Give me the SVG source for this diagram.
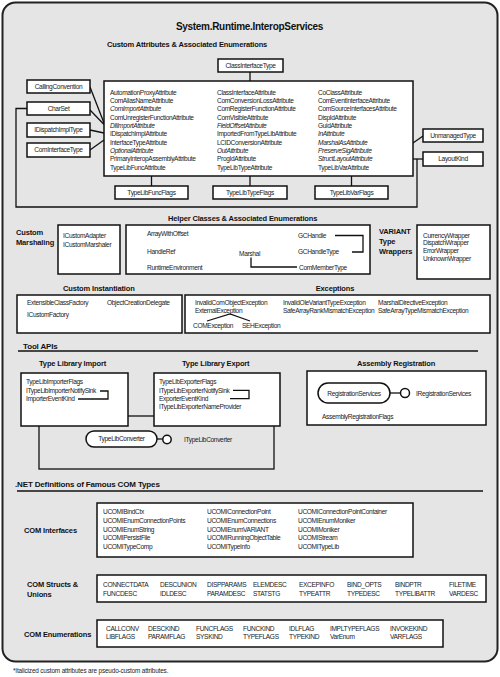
<svg xmlns="http://www.w3.org/2000/svg" width="500" height="677" viewBox="0 0 500 677">
<style>
text { font-family: "Liberation Sans", Arial, Helvetica, sans-serif; fill: #1a1a1a; }
.b { font-size: 6.6px; letter-spacing: -0.35px; }
.i { font-style: italic; }
.h { font-size: 7.5px; font-weight: bold; letter-spacing: -0.15px; fill: #111; }
.hs { font-size: 8px; }
.t { font-size: 10px; font-weight: bold; letter-spacing: -0.3px; fill: #111; }
.c { text-anchor: middle; }
.f { font-size: 6.4px; letter-spacing: -0.15px; }
.box { fill: #ffffff; stroke: #111; stroke-width: 1.5; }
.pill { fill: #ffffff; stroke: #111; stroke-width: 1.5; }
.ln { fill: none; stroke: #111; stroke-width: 1.3; }
</style>

<rect x="2.5" y="2.5" width="495" height="659" rx="13" fill="#e5e5e5" stroke="#222" stroke-width="2"/>
<text class="t c" x="249.5" y="30">System.Runtime.InteropServices</text>

<!-- ===== Section 1 ===== -->
<text class="h" x="107" y="46.5">Custom Attributes &amp; Associated Enumerations</text>

<g id="connectors">
  <line class="ln" x1="250" y1="72" x2="250" y2="81"/>
  <line class="ln" x1="90" y1="87" x2="104" y2="123"/>
  <line class="ln" x1="90" y1="110" x2="104" y2="124.5"/>
  <line class="ln" x1="90" y1="130" x2="104" y2="133"/>
  <line class="ln" x1="90" y1="150" x2="104" y2="140"/>
  <polyline class="ln" points="27,108.5 16,108.5 16,207 417,207 417,159"/>
  <line class="ln" x1="413" y1="159" x2="423" y2="159"/>
  <line class="ln" x1="413" y1="143" x2="423" y2="136"/>
  <line class="ln" x1="151.5" y1="176" x2="151.5" y2="186"/>
  <line class="ln" x1="250" y1="176" x2="250" y2="186"/>
  <line class="ln" x1="351.5" y1="176" x2="351.5" y2="186"/>
  <!-- tool apis -->
  <line class="ln" x1="18" y1="351" x2="478" y2="351"/>
  <rect class="ln" x="39" y="416" width="235" height="53"/>
  <line class="ln" x1="157" y1="439" x2="163" y2="439"/>
  <line class="ln" x1="390" y1="393" x2="400.5" y2="393"/>
  <!-- .NET -->
  <line class="ln" x1="17" y1="491" x2="483" y2="491"/>
</g>

<g id="ClassInterfaceType">
  <rect class="box" x="218" y="59" width="65" height="13"/>
  <text class="b c" x="250.5" y="67.9">ClassInterfaceType</text>
</g>

<g id="attributes">
  <rect class="box" x="104" y="81" width="309" height="95"/>
  <text class="b" x="110" y="94.7">AutomationProxyAttribute</text>
  <text class="b" x="110" y="103">ComAliasNameAttribute</text>
  <text class="b i" x="110" y="111.4">ComImportAttribute</text>
  <text class="b" x="110" y="119.7">ComUnregisterFunctionAttribute</text>
  <text class="b i" x="110" y="128">DllImportAttribute</text>
  <text class="b" x="110" y="136.4">IDispatchImplAttribute</text>
  <text class="b" x="110" y="144.7">InterfaceTypeAttribute</text>
  <text class="b i" x="110" y="153">OptionalAttribute</text>
  <text class="b" x="110" y="161.4">PrimaryInteropAssemblyAttribute</text>
  <text class="b" x="110" y="169.7">TypeLibFuncAttribute</text>

  <text class="b" x="217" y="94.7">ClassInterfaceAttribute</text>
  <text class="b" x="217" y="103">ComConversionLossAttribute</text>
  <text class="b" x="217" y="111.4">ComRegisterFunctionAttribute</text>
  <text class="b" x="217" y="119.7">ComVisibleAttribute</text>
  <text class="b i" x="217" y="128">FieldOffsetAttribute</text>
  <text class="b" x="217" y="136.4">ImportedFromTypeLibAttribute</text>
  <text class="b" x="217" y="144.7">LCIDConversionAttribute</text>
  <text class="b i" x="217" y="153">OutAttribute</text>
  <text class="b" x="217" y="161.4">ProgIdAttribute</text>
  <text class="b" x="217" y="169.7">TypeLibTypeAttribute</text>

  <text class="b" x="318" y="94.7">CoClassAttribute</text>
  <text class="b" x="318" y="103">ComEventInterfaceAttribute</text>
  <text class="b" x="318" y="111.4">ComSourceInterfacesAttribute</text>
  <text class="b" x="318" y="119.7">DispIdAttribute</text>
  <text class="b" x="318" y="128">GuidAttribute</text>
  <text class="b i" x="318" y="136.4">InAttribute</text>
  <text class="b i" x="318" y="144.7">MarshalAsAttribute</text>
  <text class="b i" x="318" y="153">PreserveSigAttribute</text>
  <text class="b i" x="318" y="161.4">StructLayoutAttribute</text>
  <text class="b" x="318" y="169.7">TypeLibVarAttribute</text>
</g>

<g id="CallingConvention">
  <rect class="box" x="27" y="80" width="63" height="13"/>
  <text class="b c" x="58.5" y="88.9">CallingConvention</text>
</g>
<g id="CharSet">
  <rect class="box" x="27" y="102" width="63" height="13"/>
  <text class="b c" x="58.5" y="110.9">CharSet</text>
</g>
<g id="IDispatchImplType">
  <rect class="box" x="27" y="123" width="63" height="14"/>
  <text class="b c" x="58.5" y="132.4">IDispatchImplType</text>
</g>
<g id="ComInterfaceType">
  <rect class="box" x="27" y="143" width="63" height="14"/>
  <text class="b c" x="58.5" y="152.4">ComInterfaceType</text>
</g>
<g id="UnmanagedType">
  <rect class="box" x="423" y="129" width="60" height="13"/>
  <text class="b c" x="453" y="137.9">UnmanagedType</text>
</g>
<g id="LayoutKind">
  <rect class="box" x="423" y="152" width="60" height="14"/>
  <text class="b c" x="453" y="161.4">LayoutKind</text>
</g>
<g id="TypeLibFuncFlags">
  <rect class="box" x="115" y="186" width="73" height="13"/>
  <text class="b c" x="151.5" y="194.9">TypeLibFuncFlags</text>
</g>
<g id="TypeLibTypeFlags">
  <rect class="box" x="213" y="186" width="74" height="13"/>
  <text class="b c" x="250" y="194.9">TypeLibTypeFlags</text>
</g>
<g id="TypeLibVarFlags">
  <rect class="box" x="315" y="186" width="73" height="13"/>
  <text class="b c" x="351.5" y="194.9">TypeLibVarFlags</text>
</g>

<!-- ===== Section 2 ===== -->
<text class="h" x="168" y="221">Helper Classes &amp; Associated Enumerations</text>
<text class="h" x="16" y="235">Custom</text>
<text class="h" x="16" y="245">Marshaling</text>

<g id="customMarshaling">
  <rect class="box" x="58" y="225" width="62" height="49"/>
  <text class="b" x="63" y="237.5">ICustomAdapter</text>
  <text class="b" x="63" y="247">ICustomMarshaler</text>
</g>

<g id="helpers">
  <rect class="box" x="126" y="225" width="244" height="49"/>
  <text class="b" x="147" y="235.5">ArrayWithOffset</text>
  <text class="b" x="147" y="253.5">HandleRef</text>
  <text class="b" x="147" y="269.5">RuntimeEnvironment</text>
  <text class="b" x="239" y="255.5">Marshal</text>
  <text class="b" x="298" y="237.5">GCHandle</text>
  <text class="b" x="298" y="254">GCHandleType</text>
  <text class="b" x="299" y="269.5">ComMemberType</text>
  <polyline class="ln" points="251,257.5 251,267 297,267"/>
  <polyline class="ln" points="335,235.5 363,235.5 363,252 352,252"/>
</g>

<text class="h" x="379" y="233.5">VARIANT</text>
<text class="h" x="379" y="243.8">Type</text>
<text class="h" x="379" y="254">Wrappers</text>

<g id="wrappers">
  <rect class="box" x="417" y="225" width="73" height="54"/>
  <text class="b" x="423" y="237.5">CurrencyWrapper</text>
  <text class="b" x="423" y="245.2">DispatchWrapper</text>
  <text class="b" x="423" y="253">ErrorWrapper</text>
  <text class="b" x="423" y="260.7">UnknownWrapper</text>
</g>

<text class="h" x="63" y="291">Custom Instantiation</text>
<g id="customInstantiation">
  <rect class="box" x="17" y="295" width="165" height="38"/>
  <text class="b" x="27" y="304.5">ExtensibleClassFactory</text>
  <text class="b" x="107" y="304.5">ObjectCreationDelegate</text>
  <text class="b" x="27" y="317">ICustomFactory</text>
</g>

<text class="h c" x="335" y="291">Exceptions</text>
<g id="exceptions">
  <rect class="box" x="185" y="295" width="305" height="38"/>
  <text class="b" x="195" y="304.5">InvalidComObjectException</text>
  <text class="b" x="195" y="312.5">ExternalException</text>
  <text class="b" x="193" y="328">COMException</text>
  <text class="b" x="242" y="328">SEHException</text>
  <text class="b" x="283" y="304.5">InvalidOleVariantTypeException</text>
  <text class="b" x="283" y="312.5">SafeArrayRankMismatchException</text>
  <text class="b" x="378" y="304.5">MarshalDirectiveException</text>
  <text class="b" x="378" y="312.5">SafeArrayTypeMismatchException</text>
  <polyline class="ln" points="207,321 230,314 250,321"/>
</g>

<!-- ===== Section 3 ===== -->
<text class="h hs" x="23" y="348.5">Tool APIs</text>
<text class="h" x="39" y="366">Type Library Import</text>
<text class="h" x="182" y="366">Type Library Export</text>
<text class="h" x="357" y="366">Assembly Registration</text>

<g id="typeLibImport">
  <rect class="box" x="21" y="373" width="107" height="53"/>
  <text class="b" x="26" y="384.4">TypeLibImporterFlags</text>
  <text class="b" x="26" y="392.8">ITypeLibImporterNotifySink</text>
  <text class="b" x="26" y="401.3">ImporterEventKind</text>
  <polyline class="ln" points="100,391 108,391 108,399 78,399"/>
</g>

<g id="typeLibExport">
  <rect class="box" x="154" y="373" width="126" height="53"/>
  <text class="b" x="159" y="384.4">TypeLibExporterFlags</text>
  <text class="b" x="159" y="392.7">ITypeLibExporterNotifySink</text>
  <text class="b" x="159" y="401">ExporterEventKind</text>
  <text class="b" x="159" y="409.4">ITypeLibExporterNameProvider</text>
  <polyline class="ln" points="233,390.3 249,390.3 249,398.7 230,398.7"/>
</g>

<g id="TypeLibConverter">
  <rect class="pill" x="86" y="431" width="71" height="16" rx="8"/>
  <text class="b c" x="121.5" y="441.4">TypeLibConverter</text>
  <circle cx="167" cy="439.5" r="4.2" fill="#fff" stroke="#111" stroke-width="1.5"/>
  <text class="b" x="184" y="442">ITypeLibConverter</text>
</g>

<g id="assemblyRegistration">
  <rect class="box" x="307" y="371" width="179" height="54"/>
  <rect class="pill" x="318" y="383" width="72" height="20" rx="10"/>
  <text class="b c" x="354" y="395.5">RegistrationServices</text>
  <line class="ln" x1="390" y1="393" x2="400.5" y2="393"/>
  <circle cx="405" cy="393" r="4.5" fill="#fff" stroke="#111" stroke-width="1.5"/>
  <text class="b" x="416" y="395.5">IRegistrationServices</text>
  <text class="b" x="322" y="418.5">AssemblyRegistrationFlags</text>
</g>

<!-- ===== Section 4 ===== -->
<text class="h hs" x="15" y="486.5">.NET Definitions of Famous COM Types</text>

<text class="h" x="24" y="532.5">COM Interfaces</text>
<g id="comInterfaces">
  <rect class="box" x="97" y="503" width="316" height="54"/>
  <text class="b" x="103" y="514.4">UCOMIBindCtx</text>
  <text class="b" x="103" y="523">UCOMIEnumConnectionPoints</text>
  <text class="b" x="103" y="531.7">UCOMIEnumString</text>
  <text class="b" x="103" y="540.4">UCOMIPersistFile</text>
  <text class="b" x="103" y="549">UCOMITypeComp</text>
  <text class="b" x="207" y="514.4">UCOMIConnectionPoint</text>
  <text class="b" x="207" y="523">UCOMIEnumConnections</text>
  <text class="b" x="207" y="531.7">UCOMIEnumVARIANT</text>
  <text class="b" x="207" y="540.4">UCOMIRunningObjectTable</text>
  <text class="b" x="207" y="549">UCOMITypeInfo</text>
  <text class="b" x="298" y="514.4">UCOMIConnectionPointContainer</text>
  <text class="b" x="298" y="523">UCOMIEnumMoniker</text>
  <text class="b" x="298" y="531.7">UCOMIMoniker</text>
  <text class="b" x="298" y="540.4">UCOMIStream</text>
  <text class="b" x="298" y="549">UCOMITypeLib</text>
</g>

<text class="h" x="27" y="587.3">COM Structs &amp;</text>
<text class="h" x="27" y="597">Unions</text>
<g id="comStructs">
  <rect class="box" x="97" y="575" width="389" height="27"/>
  <text class="b" x="103" y="587.4">CONNECTDATA</text>
  <text class="b" x="160" y="587.4">DESCUNION</text>
  <text class="b" x="207" y="587.4">DISPPARAMS</text>
  <text class="b" x="253" y="587.4">ELEMDESC</text>
  <text class="b" x="299" y="587.4">EXCEPINFO</text>
  <text class="b" x="347" y="587.4">BIND_OPTS</text>
  <text class="b" x="395" y="587.4">BINDPTR</text>
  <text class="b" x="449" y="587.4">FILETIME</text>
  <text class="b" x="103" y="595.7">FUNCDESC</text>
  <text class="b" x="160" y="595.7">IDLDESC</text>
  <text class="b" x="207" y="595.7">PARAMDESC</text>
  <text class="b" x="253" y="595.7">STATSTG</text>
  <text class="b" x="299" y="595.7">TYPEATTR</text>
  <text class="b" x="347" y="595.7">TYPEDESC</text>
  <text class="b" x="395" y="595.7">TYPELIBATTR</text>
  <text class="b" x="449" y="595.7">VARDESC</text>
</g>

<text class="h" x="24" y="636.5">COM Enumerations</text>
<g id="comEnums">
  <rect class="box" x="97" y="620" width="346" height="27"/>
  <text class="b" x="106" y="630.7">CALLCONV</text>
  <text class="b" x="148" y="630.7">DESCKIND</text>
  <text class="b" x="196" y="630.7">FUNCFLAGS</text>
  <text class="b" x="243" y="630.7">FUNCKIND</text>
  <text class="b" x="289" y="630.7">IDLFLAG</text>
  <text class="b" x="330" y="630.7">IMPLTYPEFLAGS</text>
  <text class="b" x="390" y="630.7">INVOKEKIND</text>
  <text class="b" x="106" y="639">LIBFLAGS</text>
  <text class="b" x="148" y="639">PARAMFLAG</text>
  <text class="b" x="196" y="639">SYSKIND</text>
  <text class="b" x="243" y="639">TYPEFLAGS</text>
  <text class="b" x="289" y="639">TYPEKIND</text>
  <text class="b" x="330" y="639">VarEnum</text>
  <text class="b" x="390" y="639">VARFLAGS</text>
</g>

<text class="f" x="13" y="673">*Italicized custom attributes are pseudo-custom attributes.</text>
</svg>
